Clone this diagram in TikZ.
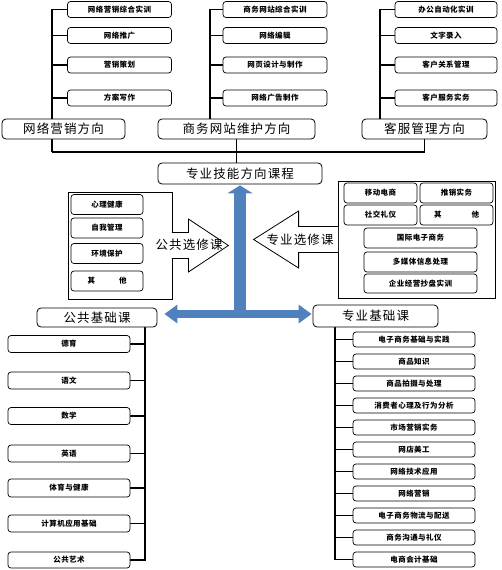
\documentclass[tikz,border=0pt]{standalone}
\usepackage{fontspec}
\usepackage{xcolor}
\usepackage{tikz}
\usetikzlibrary{arrows.meta, positioning, backgrounds, calc}
\newfontfamily\cjkfont[LetterSpace=6]{Noto Sans CJK SC}
\newfontfamily\cjkwide[LetterSpace=9]{Noto Sans CJK SC}
\newcommand{\bigcjk}{\fontsize{12.5}{15}\cjkwide}
\newcommand{\smallcjk}{\fontsize{7.5}{9}\cjkfont\bfseries}
\definecolor{pathBlue}{RGB}{79,129,189}
\definecolor{pathBlueEdge}{RGB}{56,93,138}

\begin{document}
\begin{tikzpicture}[
    x=1pt, y=-1pt,
    dirbox/.style={draw, rounded corners=4pt, fill=white, minimum height=20pt, inner sep=0pt, line width=0.8pt, font=\bigcjk},
    itembox/.style={draw, rounded corners=3pt, fill=white, minimum height=16pt, inner sep=0pt, line width=0.7pt, font=\smallcjk},
    topitem/.style={itembox, minimum width=104pt},
    baseitem/.style={itembox, minimum width=122pt},
    electitem/.style={itembox, minimum width=73pt, minimum height=20pt},
    groupbox/.style={draw, fill=white, inner sep=0pt, line width=0.8pt},
    blockarrow/.style={fill=white, draw, line width=0.8pt},
    conn/.style={line width=1.3pt},
    bluearrow/.style={draw=pathBlue, line width=12pt, -{Triangle[length=8pt, width=25pt]}},
    bluebar/.style={draw=pathBlue, line width=8pt, {Triangle[length=13pt, width=18pt]}-{Triangle[length=13pt, width=18pt]}}
]
    \useasboundingbox (0,0) rectangle (502,570);

    % Direction column: network marketing
    \node[topitem] (lm1) at (119.5, 9.5) {网络营销综合实训};
    \node[topitem] (lm2) at (119.5, 35.5) {网络推广};
    \node[topitem] (lm3) at (119.5, 65) {营销策划};
    \node[topitem] (lm4) at (119.5, 98) {方案写作};

    % Direction column: website maintenance
    \node[topitem] (mm1) at (275, 9.5) {商务网站综合实训};
    \node[topitem] (mm2) at (275, 35.5) {网络编辑};
    \node[topitem] (mm3) at (275, 65) {网页设计与制作};
    \node[topitem] (mm4) at (275, 98) {网络广告制作};

    % Direction column: customer service
    \node[topitem, minimum width=102pt] (rm1) at (446, 9.5) {办公自动化实训};
    \node[topitem, minimum width=102pt] (rm2) at (446, 35.5) {文字录入};
    \node[topitem, minimum width=102pt] (rm3) at (446, 65) {客户关系管理};
    \node[topitem, minimum width=102pt] (rm4) at (446, 98) {客户服务实务};

    % Directions
    \node[dirbox, minimum width=123pt] (ldir) at (63.5, 129) {网络营销方向};
    \node[dirbox, minimum width=157pt] (mdir) at (236.5, 129) {商务网站维护方向};
    \node[dirbox, minimum width=125pt] (rdir) at (424.5, 129) {客服管理方向};
    \node[dirbox, minimum width=164pt, minimum height=21pt] (core) at (240, 173.5) {专业技能方向课程};

    % Public electives
    \node[groupbox, minimum width=104pt, minimum height=107pt] (pubel) at (120, 245.5) {};
    \node[electitem, minimum width=72pt] (pe1) at (107, 204.5) {心理健康};
    \node[electitem, minimum width=72pt] (pe2) at (107, 228) {自我管理};
    \node[electitem, minimum width=72pt] (pe3) at (107, 253.5) {环境保护};
    \node[electitem, minimum width=72pt] (pe4) at (107, 281) {其\hspace{24pt}他};
    \path[blockarrow] ([xshift=-0.6pt]pubel.east) ++(0,-13) -- ++(16.6,0) -- ++(0,-13.5)
        -- ++(40,26.5) -- ++(-40,26.5) -- ++(0,-13.5) -- ++(-16.6,0);
    \node[font=\bigcjk] (pubellabel) at (189, 245) {公共选修课};

    % Professional electives
    \node[groupbox, minimum width=157pt, minimum height=117pt] (proel) at (416.5, 239.5) {};
    \node[electitem] (qe1) at (380.5, 193) {移动电商};
    \node[electitem] (qe2) at (456.5, 193) {推销实务};
    \node[electitem] (qe3) at (380.5, 215) {社交礼仪};
    \node[electitem] (qe4) at (456.5, 215) {其\hspace{30pt}他};
    \node[electitem, minimum width=113pt] (qe5) at (420.5, 238) {国际电子商务};
    \node[electitem, minimum width=113pt] (qe6) at (420.5, 262) {多媒体信息处理};
    \node[electitem, minimum width=113pt, minimum height=19pt] (qe7) at (420.5, 283.5) {企业经营抄盘实训};
    \path[blockarrow] ([xshift=0.6pt]proel.west) ++(0,-13) -- ++(-39.6,0) -- ++(0,-15.5)
        -- ++(-45,28.5) -- ++(45,28.5) -- ++(0,-15.5) -- ++(39.6,0);
    \node[font=\bigcjk] (prellabel) at (300, 240) {专业选修课};

    % Public basic courses
    \node[dirbox, minimum width=120pt, minimum height=19pt] (pubbase) at (97, 317.5) {公共基础课};
    \node[baseitem, minimum height=17pt] (pb1) at (69, 344) {德育};
    \node[baseitem, minimum height=17pt] (pb2) at (69, 380.5) {语文};
    \node[baseitem, minimum height=17pt] (pb3) at (69, 416) {数学};
    \node[baseitem, minimum height=17pt] (pb4) at (69, 453.5) {英语};
    \node[baseitem, minimum height=18pt] (pb5) at (69, 488) {体育与健康};
    \node[baseitem, minimum height=17pt] (pb6) at (69, 523.5) {计算机应用基础};
    \node[baseitem, minimum height=16pt] (pb7) at (69, 560) {公共艺术};

    % Professional basic courses
    \node[dirbox, minimum width=125pt, minimum height=22pt] (probase) at (375.5, 316) {专业基础课};
    \node[baseitem, minimum height=15pt] (qb1) at (414, 339.5) {电子商务基础与实践};
    \node[baseitem, minimum height=15pt] (qb2) at (414, 361.5) {商品知识};
    \node[baseitem, minimum height=15pt] (qb3) at (414, 383.5) {商品拍摄与处理};
    \node[baseitem, minimum height=15pt] (qb4) at (414, 405.5) {消费者心理及行为分析};
    \node[baseitem, minimum height=15pt] (qb5) at (414, 427.5) {市场营销实务};
    \node[baseitem, minimum height=15pt] (qb6) at (414, 449.5) {网店美工};
    \node[baseitem, minimum height=15pt] (qb7) at (414, 471.5) {网络技术应用};
    \node[baseitem, minimum height=15pt] (qb8) at (414, 493.5) {网络营销};
    \node[baseitem, minimum height=15pt] (qb9) at (414, 515.5) {电子商务物流与配送};
    \node[baseitem, minimum height=15pt] (qb10) at (414, 537.5) {商务沟通与礼仪};
    \node[baseitem, minimum height=15pt] (qb11) at (414, 559.5) {电商会计基础};

    % Trunk points
    \coordinate (ltrunk) at (52, 152);
    \coordinate (mtrunk) at (210, 119);
    \coordinate (rtrunk) at (380, 119);
    \coordinate (rbar) at (rdir.south |- ltrunk);
    \coordinate (ptrunk) at (145, 327);
    \coordinate (qtrunk) at (335, 327);
    \coordinate (hub) at (240, 314);

    % Blue arrows
    \draw[bluearrow, shorten >=1pt] (hub) -- (core.south);
    \draw[bluebar, shorten <=7pt, shorten >=1pt] (pubbase.east |- hub) -- (probase.west |- hub);

    % Connectors
    \begin{pgfonlayer}{background}
        \draw[conn] (lm1.west) -| (ltrunk);
        \draw[conn] (lm2.west) -- (lm2.west -| ltrunk);
        \draw[conn] (lm3.west) -- (lm3.west -| ltrunk);
        \draw[conn] (lm4.west) -- (lm4.west -| ltrunk);
        \draw[conn] (mm1.west) -| (mtrunk);
        \draw[conn] (mm2.west) -- (mm2.west -| mtrunk);
        \draw[conn] (mm3.west) -- (mm3.west -| mtrunk);
        \draw[conn] (mm4.west) -- (mm4.west -| mtrunk);
        \draw[conn] (rm1.west) -| (rtrunk);
        \draw[conn] (rm2.west) -- (rm2.west -| rtrunk);
        \draw[conn] (rm3.west) -- (rm3.west -| rtrunk);
        \draw[conn] (rm4.west) -- (rm4.west -| rtrunk);
        \draw[conn] (ltrunk) -- (rbar) -- (rdir.south);
        \draw[conn] (mdir.south) -- (mdir.south |- core.north);

        \draw[conn] (ptrunk) |- (pb7.east);
        \draw[conn] (pb1.east) -- (pb1.east -| ptrunk);
        \draw[conn] (pb2.east) -- (pb2.east -| ptrunk);
        \draw[conn] (pb3.east) -- (pb3.east -| ptrunk);
        \draw[conn] (pb4.east) -- (pb4.east -| ptrunk);
        \draw[conn] (pb5.east) -- (pb5.east -| ptrunk);
        \draw[conn] (pb6.east) -- (pb6.east -| ptrunk);

        \draw[conn] (qtrunk) |- (qb11.west);
        \draw[conn] (qb1.west) -- (qb1.west -| qtrunk);
        \draw[conn] (qb2.west) -- (qb2.west -| qtrunk);
        \draw[conn] (qb3.west) -- (qb3.west -| qtrunk);
        \draw[conn] (qb4.west) -- (qb4.west -| qtrunk);
        \draw[conn] (qb5.west) -- (qb5.west -| qtrunk);
        \draw[conn] (qb6.west) -- (qb6.west -| qtrunk);
        \draw[conn] (qb7.west) -- (qb7.west -| qtrunk);
        \draw[conn] (qb8.west) -- (qb8.west -| qtrunk);
        \draw[conn] (qb9.west) -- (qb9.west -| qtrunk);
        \draw[conn] (qb10.west) -- (qb10.west -| qtrunk);
    \end{pgfonlayer}
\end{tikzpicture}
\end{document}
